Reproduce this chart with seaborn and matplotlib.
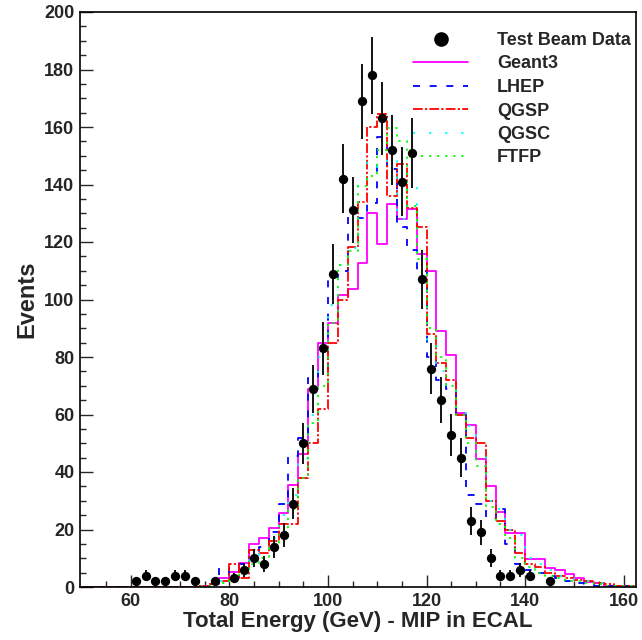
import numpy as np
import pandas as pd
import matplotlib
matplotlib.use("Agg")
import matplotlib.pyplot as plt
import seaborn as sns
from matplotlib.lines import Line2D

# ---------------- data ----------------
bin_edges = np.arange(50, 164, 2)          # 56 bins, 2 GeV wide
zeros12 = [0] * 12                          # bins 50..74 (empty)

geant3 = zeros12 + [0.5, 1, 3.2, 5.1, 8.5, 15, 17, 20.6, 25.7, 35.5, 46.3, 68.9, 84.7, 91.9,
                    101.7, 103.5, 112.6, 130, 119.3, 133.2, 127.9, 131.4, 116, 110, 89, 80.6,
                    60.5, 56.4, 44.5, 35.3, 26, 18.7, 18.7, 9.6, 9.6, 6.5, 6, 4.4, 3, 1.9, 1.3,
                    0.5, 0.5, 0.5]
lhep = zeros12 + [0.5, 1, 6.5, 3, 8, 10, 14, 19, 29, 45.4, 52, 72.7, 75, 108, 110, 128.6, 128.5,
                  133.5, 156.6, 145.3, 125.3, 117.2, 110, 80, 72, 69, 60, 32, 29, 24, 27, 15, 8,
                  6, 5, 4, 3, 2, 1.5, 1, 0.5, 0.5, 0.3, 0.3]
qgsp = zeros12 + [0.5, 1, 2, 8, 3, 13, 12, 16, 22, 22, 38, 50, 62, 85, 100, 118.4, 134, 160,
                  164.5, 136, 147, 132, 125.3, 88, 78, 72, 60, 52, 50, 30, 23, 20, 12, 8, 7, 5,
                  4, 3, 2.5, 2, 1.5, 1, 0.5, 0.5]
qgsc = zeros12 + [0.5, 1, 2, 4, 6, 10, 13, 17, 25, 32, 45, 60, 80, 98, 112, 118, 140, 148,
                  146, 152, 128, 139.5, 115, 85, 75, 70, 62, 56, 46, 30, 27, 20, 18, 10, 8, 6, 4,
                  3, 2.5, 2, 1.5, 1, 0.5, 0.3]
ftfp = zeros12 + [0.5, 1, 1.5, 2.5, 5, 8, 10, 15, 18, 27, 38, 57, 70, 92, 112, 117, 139.5,
                  143, 152, 159.8, 155, 132.5, 114, 90, 80, 70, 60, 50, 42, 28, 22, 17, 10, 7,
                  5, 4, 3, 2, 2, 1.5, 1, 0.5, 0.3, 0.3]

data_x = [61, 63, 65, 67, 69, 71, 73, 77, 81, 83, 85, 87, 89, 91, 93, 95, 97, 99, 101, 103,
          105, 107, 109, 111, 113, 115, 117, 119, 121, 123, 125, 127, 129, 131, 133, 135, 137,
          139, 141, 145]
data_y = [2, 4, 2, 2, 4, 4, 2, 2, 3, 6, 10, 8, 14, 18, 29, 50, 69, 83, 109, 142, 131, 169,
          178, 163, 152, 141, 151, 107, 76, 65, 53, 45, 23, 19, 10, 4, 4, 6, 4, 2]

series_names = ["Geant3", "LHEP", "QGSP", "QGSC", "FTFP"]
x_ticks = [60, 80, 100, 120, 140, 160]
y_ticks = [0, 20, 40, 60, 80, 100, 120, 140, 160, 180, 200]

# ---------------- style ----------------
sns.set_style("white")
plt.rcParams["font.family"] = ["Liberation Sans", "DejaVu Sans"]
plt.rcParams["font.weight"] = "bold"
plt.rcParams["lines.scale_dashes"] = False

colors = ["#ff00ff", "#0000ff", "#ff0000", "#00ffff", "#00ff00"]
styles = ["-", (0, (5, 7)), (0, (7, 1.6, 1.6, 1.6)), (0, (1.6, 10)), (0, (1.6, 4.2))]
series_vals = [geant3, lhep, qgsp, qgsc, ftfp]

fig = plt.figure(figsize=(6.42, 6.40), dpi=100)
ax = fig.add_axes([80 / 642, 53 / 640, 555.5 / 642, 575 / 640])

centers = (bin_edges[:-1] + bin_edges[1:]) / 2
for name, vals, c, ls in zip(series_names, series_vals, colors, styles):
    df = pd.DataFrame({"E": centers, "w": np.array(vals, dtype=float)})
    sns.histplot(data=df, x="E", weights="w", binwidth=2, binrange=(50, 162),
                 element="step", fill=False, color=c, linewidth=1.3, linestyle=ls, ax=ax)

dy = np.sqrt(np.array(data_y, dtype=float))
ax.errorbar(data_x, data_y, yerr=dy, fmt="none", ecolor="black", elinewidth=1.3, capsize=0,
            zorder=5)
sns.scatterplot(x=data_x, y=data_y, color="black", s=45, edgecolor="black", linewidth=0,
                zorder=6, ax=ax)

ax.set_xlim(49.7, 162.4)
ax.set_ylim(0, 200)
ax.set_xticks(x_ticks)
ax.set_yticks(y_ticks)
ax.set_xticks(np.arange(55, 162, 5), minor=True)
ax.set_yticks(np.arange(0, 201, 5), minor=True)
ax.tick_params(axis="both", which="major", direction="in", length=9, width=1,
               labelsize=13, top=False, right=False, bottom=True, left=True, pad=4)
ax.tick_params(axis="both", which="minor", direction="in", length=4.5, width=1,
               top=False, right=False, bottom=True, left=True)
for lab in ax.get_xticklabels() + ax.get_yticklabels():
    lab.set_fontweight("bold")
for sp in ax.spines.values():
    sp.set_color("black")
    sp.set_linewidth(1.2)

ax.set_xlabel("Total Energy (GeV) - MIP in ECAL", fontsize=16, fontweight="bold", labelpad=1)
ax.set_ylabel("Events", fontsize=17, fontweight="bold", labelpad=4)

handles = [Line2D([], [], color="black", marker="o", linestyle="none", markersize=9.5)]
for c, ls in zip(colors, styles):
    handles.append(Line2D([], [], color=c, linestyle=ls, linewidth=1.3))
labels = ["Test Beam Data"] + series_names
leg = ax.legend(handles, labels, loc="upper left", bbox_to_anchor=(413 / 642, 1 - 32 / 640),
                bbox_transform=fig.transFigure, frameon=False, fontsize=13,
                handlelength=3.05, handletextpad=1.6, labelspacing=0.36, borderpad=0,
                borderaxespad=0)
for t in leg.get_texts():
    t.set_fontweight("bold")

fig.savefig("out.png", dpi=100)
